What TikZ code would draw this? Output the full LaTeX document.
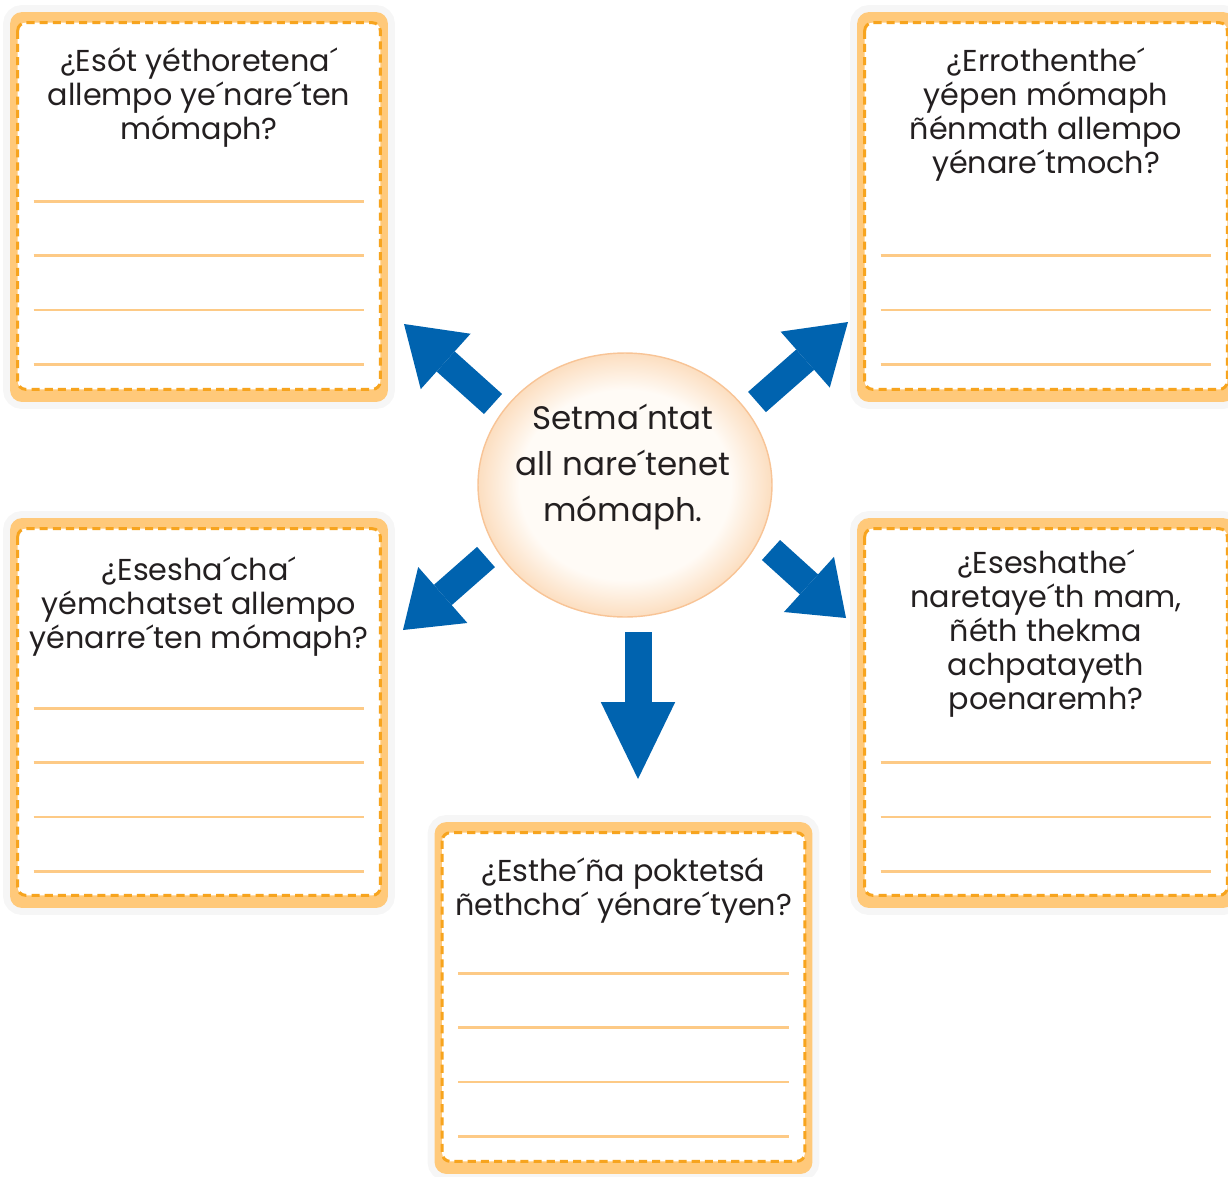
\documentclass[tikz,border=0pt]{standalone}
\usepackage{fontspec}
\setmainfont{Poppins}
\usetikzlibrary{arrows.meta,positioning,calc,shapes.geometric}
\definecolor{bandorange}{RGB}{255,201,122}
\definecolor{dashorange}{RGB}{247,164,30}
\definecolor{ruleorange}{RGB}{253,202,134}
\definecolor{arrowblue}{RGB}{0,99,175}
\definecolor{inkgray}{RGB}{35,31,32}
\definecolor{hubin}{RGB}{255,251,246}
\definecolor{hubout}{RGB}{252,222,192}
\definecolor{hubedge}{RGB}{248,196,150}
\pgfdeclareradialshading{hubglow}{\pgfpoint{0bp}{0bp}}{color(0bp)=(hubin); color(18bp)=(hubin); color(25bp)=(hubout); color(50bp)=(hubout)}
\newcommand{\cardframe}[1]{%
  \draw[innerframe] ([shift={(8,11)}]#1.north west) rectangle ([shift={(-8,-13)}]#1.south east);}
\newcommand{\rulelines}[3]{%
  \foreach \k [evaluate=\k as \dy using #3+(\k-1)*54.3] in {1,...,#2}
    \draw[ruleline] ([shift={(24,-\dy)}]#1.south west) -- ([shift={(-24,-\dy)}]#1.south east);}

\begin{document}
\begin{tikzpicture}[
  x=0.02cm, y=-0.02cm,
  card/.style={
    fill=bandorange,
    rounded corners=0.24cm,
    minimum width=7.56cm,
    minimum height=7.8cm,
    inner sep=0pt,
    preaction={draw=black, draw opacity=.035, line width=0.28cm}
  },
  innerframe/.style={
    draw=dashorange,
    fill=white,
    line width=1.7pt,
    dash pattern=on 4.6pt off 2.9pt,
    rounded corners=0.16cm
  },
  ruleline/.style={draw=ruleorange, line width=1.5pt},
  asktext/.style={
    align=center,
    inner sep=0pt,
    text=inkgray,
    font=\fontsize{17.2}{19.3}\selectfont
  },
  hubtext/.style={
    align=center,
    inner sep=0pt,
    text=inkgray,
    font=\fontsize{18.5}{26.1}\selectfont
  },
  blockarrow/.style={
    draw=arrowblue,
    line width=0.54cm,
    -{Triangle[length=#1, width=1.49cm, line width=0pt]}
  }
]
\path[use as bounding box, fill=white] (0,0) rectangle (1228,1177);
\clip (0,0) rectangle (1228,1177);

\node[card] (qa) at (199,207) {};
\node[card] (qb) at (1046,207) {};
\node[card] (qc) at (199,713) {};
\node[card] (qd) at (1046,713) {};
\node[card, minimum height=7.04cm] (qe) at (623.5,998) {};
\foreach \c in {qa,qb,qc,qd,qe} {\cardframe{\c}}

\rulelines{qa}{4}{38}
\rulelines{qb}{3}{38}
\rulelines{qc}{4}{37}
\rulelines{qd}{3}{37}
\rulelines{qe}{4}{38}

\node[asktext, below=0.72cm of qa.north] (ta)
  {¿Esót yéthoretena´\\allempo ye´nare´ten\\mómaph?};
\node[asktext, below=0.72cm of qb.north] (tb)
  {¿Errothenthe´\\yépen mómaph\\ñénmath allempo\\yénare´tmoch?};
\node[asktext, below=0.78cm of qc.north] (tc)
  {¿Esesha´cha´\\yémchatset allempo\\yénarre´ten mómaph?};
\node[asktext, below=0.64cm of qd.north] (td)
  {¿Eseshathe´\\naretaye´th mam,\\ñéth thekma\\achpatayeth\\poenaremh?};
\node[asktext, below=0.71cm of qe.north] (te)
  {¿Esthe´ña poktetsá\\ñethcha´ yénare´tyen?};

\node[ellipse, minimum width=5.88cm, minimum height=5.28cm, shading=hubglow,
  draw=hubedge, line width=0.8pt] (hub) at (625,485) {};
\node[hubtext] (hubt) at (623,467) {Setma´ntat\\all nare´tenet\\mómaph.};

\coordinate (nwTail) at (493,404);
\coordinate (nwTip) at (404,324);
\coordinate (neTail) at (757,402);
\coordinate (neTip) at (848,322);
\coordinate (swTail) at (486,557);
\coordinate (swTip) at (403,630);
\coordinate (seTail) at (771,550);
\coordinate (seTip) at (846,618);
\coordinate (sTail) at (638,632);
\coordinate (sTip) at (638,779);

\draw[blockarrow=1.12cm] (nwTail) -- (nwTip);
\draw[blockarrow=1.14cm] (neTail) -- (neTip);
\draw[blockarrow=1.06cm] (swTail) -- (swTip);
\draw[blockarrow=1.0cm] (seTail) -- (seTip);
\draw[blockarrow=1.54cm] (sTail) -- (sTip);
\end{tikzpicture}
\end{document}
